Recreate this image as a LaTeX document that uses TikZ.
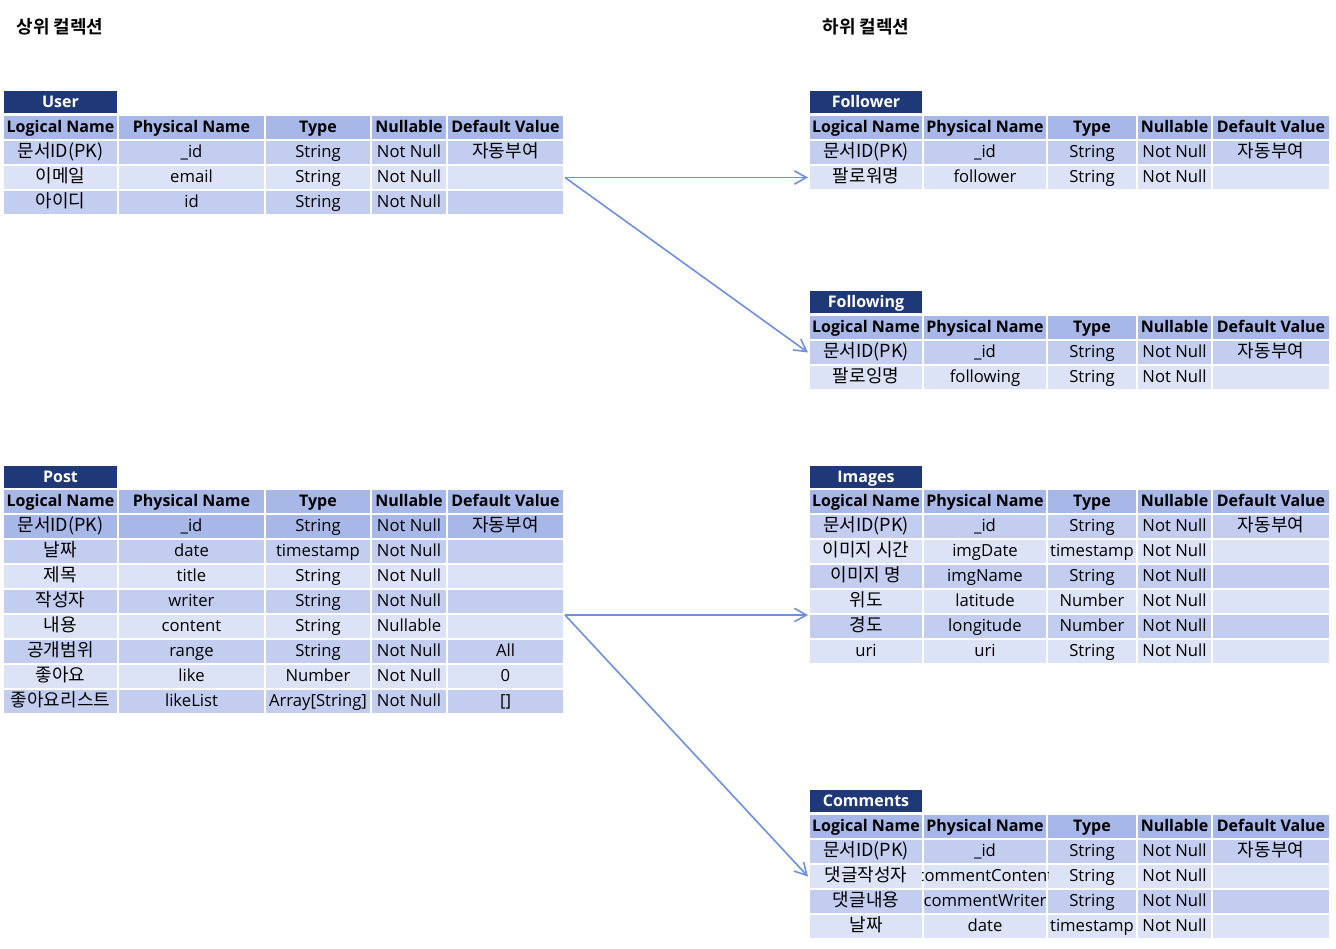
\documentclass[tikz,border=0pt]{standalone}
\usepackage{fontspec}
\setmainfont{Open Sans}
\newfontfamily\kr{Noto Sans CJK KR}[BoldFont={Noto Sans CJK KR Bold}, Scale=1.08]
\usetikzlibrary{arrows.meta}

\definecolor{navy}{RGB}{31,56,120}
\definecolor{hdrblue}{RGB}{167,184,232}
\definecolor{midblue}{RGB}{194,205,240}
\definecolor{lightblue}{RGB}{221,227,246}
\definecolor{linkblue}{RGB}{111,143,224}

\tikzset{every picture/.style={line width=0.75pt}}
\tikzset{
  cell/.style={draw=white, line width=1.5pt, anchor=north west, inner sep=0pt,
    minimum height=18.75pt, text height=10pt, text depth=2pt,
    font=\fontsize{12.5}{14}\selectfont},
  headrow/.style={cell, fill=hdrblue, font=\fontsize{12}{14}\selectfont\bfseries},
  rowdark/.style={cell, fill=hdrblue},
  rowmid/.style={cell, fill=midblue},
  rowlight/.style={cell, fill=lightblue},
  titlebar/.style={cell, fill=navy, text=white, minimum height=18pt,
    font=\fontsize{12}{14}\selectfont\bfseries},
  link/.style={draw=linkblue, line width=1.2pt, -{Straight Barb[length=9pt,width=10pt,line width=1.2pt]}},
}

% column positions of the left and right tables
\newcommand{\leftcols}{\def\cxa{2}\def\cxb{117}\def\cxc{264}\def\cxd{370}\def\cxe{446}%
  \def\cwa{86.25pt}\def\cwb{110.25pt}\def\cwc{79.5pt}\def\cwd{57pt}\def\cwe{87.75pt}}
\newcommand{\rightcols}{\def\cxa{808}\def\cxb{922}\def\cxc{1046}\def\cxd{1136}\def\cxe{1211}%
  \def\cwa{85.5pt}\def\cwb{93pt}\def\cwc{67.5pt}\def\cwd{56.25pt}\def\cwe{88.5pt}}
% one table row: name, top, style, five cell texts
\newcommand{\dbrow}[8]{%
  \node[#3, minimum width=\cwa] (#1-1) at (\cxa,#2) {#4};
  \node[#3, minimum width=\cwb] (#1-2) at (\cxb,#2) {#5};
  \node[#3, minimum width=\cwc] (#1-3) at (\cxc,#2) {#6};
  \node[#3, minimum width=\cwd] (#1-4) at (\cxd,#2) {#7};
  \node[#3, minimum width=\cwe] (#1-5) at (\cxe,#2) {#8};
}
\newcommand{\dbhead}[2]{%
  \dbrow{#1}{#2}{headrow}{Logical Name}{Physical Name}{Type}{Nullable}{Default Value}}

\begin{document}
\begin{tikzpicture}[x=0.75pt,y=0.75pt,yscale=-1,xscale=1]
\useasboundingbox (0,0) rectangle (1336,949);

% Section titles
\node[anchor=west, inner sep=0pt, font=\kr\fontsize{12.5}{14}\selectfont\bfseries] (upper) at (16,27) {상위 컬렉션};
\node[anchor=west, inner sep=0pt, font=\kr\fontsize{12.5}{14}\selectfont\bfseries] (lower) at (822,27) {하위 컬렉션};

% User
\leftcols
\node[titlebar, minimum width=\cwa] (user-title) at (\cxa,89) {User};
\dbhead{user-head}{114}
\dbrow{user-pk}{139}{rowmid}{\kr 문서ID(PK)}{\_id}{String}{Not Null}{\kr 자동부여}
\dbrow{user-email}{164}{rowlight}{\kr 이메일}{email}{String}{Not Null}{}
\dbrow{user-id}{189}{rowmid}{\kr 아이디}{id}{String}{Not Null}{}

% Post
\node[titlebar, minimum width=\cwa] (post-title) at (\cxa,464) {Post};
\dbhead{post-head}{488}
\dbrow{post-pk}{513}{rowdark}{\kr 문서ID(PK)}{\_id}{String}{Not Null}{\kr 자동부여}
\dbrow{post-date}{538}{rowmid}{\kr 날짜}{date}{timestamp}{Not Null}{}
\dbrow{post-title}{563}{rowlight}{\kr 제목}{title}{String}{Not Null}{}
\dbrow{post-writer}{588}{rowmid}{\kr 작성자}{writer}{String}{Not Null}{}
\dbrow{post-content}{613}{rowlight}{\kr 내용}{content}{String}{Nullable}{}
\dbrow{post-range}{638}{rowmid}{\kr 공개범위}{range}{String}{Not Null}{All}
\dbrow{post-like}{663}{rowlight}{\kr 좋아요}{like}{Number}{Not Null}{0}
\dbrow{post-likelist}{688}{rowmid}{\kr 좋아요리스트}{likeList}{Array[String]}{Not Null}{[]}

% Follower
\rightcols
\node[titlebar, minimum width=\cwa] (follower-title) at (\cxa,89) {Follower};
\dbhead{follower-head}{114}
\dbrow{follower-pk}{139}{rowmid}{\kr 문서ID(PK)}{\_id}{String}{Not Null}{\kr 자동부여}
\dbrow{follower-follower}{164}{rowlight}{\kr 팔로워명}{follower}{String}{Not Null}{}

% Following
\node[titlebar, minimum width=\cwa] (following-title) at (\cxa,289) {Following};
\dbhead{following-head}{314}
\dbrow{following-pk}{339}{rowmid}{\kr 문서ID(PK)}{\_id}{String}{Not Null}{\kr 자동부여}
\dbrow{following-following}{364}{rowlight}{\kr 팔로잉명}{following}{String}{Not Null}{}

% Images
\node[titlebar, minimum width=\cwa] (images-title) at (\cxa,464) {Images};
\dbhead{images-head}{488}
\dbrow{images-pk}{513}{rowmid}{\kr 문서ID(PK)}{\_id}{String}{Not Null}{\kr 자동부여}
\dbrow{images-date}{538}{rowlight}{\kr 이미지 시간}{imgDate}{timestamp}{Not Null}{}
\dbrow{images-name}{563}{rowmid}{\kr 이미지 명}{imgName}{String}{Not Null}{}
\dbrow{images-lat}{588}{rowlight}{\kr 위도}{latitude}{Number}{Not Null}{}
\dbrow{images-lon}{613}{rowmid}{\kr 경도}{longitude}{Number}{Not Null}{}
\dbrow{images-uri}{638}{rowlight}{uri}{uri}{String}{Not Null}{}

% Comments
\node[titlebar, minimum width=\cwa] (comments-title) at (\cxa,788) {Comments};
\dbhead{comments-head}{813}
\dbrow{comments-pk}{838}{rowmid}{\kr 문서ID(PK)}{\_id}{String}{Not Null}{\kr 자동부여}
\dbrow{comments-writer}{863}{rowlight}{\kr 댓글작성자}{}{String}{Not Null}{}
\dbrow{comments-content}{888}{rowmid}{\kr 댓글내용}{}{String}{Not Null}{}
\dbrow{comments-date}{913}{rowlight}{\kr 날짜}{date}{timestamp}{Not Null}{}
% overflowing texts, cut at the cell edges
\begin{scope}
\clip (comments-writer-2.north west) rectangle (comments-writer-2.south east);
\node[font=\fontsize{12.5}{14}\selectfont, inner sep=0pt, text height=10pt, text depth=2pt] (comments-writer-text) at (comments-writer-2.center) {commentContent};
\end{scope}
\begin{scope}
\clip (comments-content-2.north west) rectangle (comments-content-2.south east);
\node[font=\fontsize{12.5}{14}\selectfont, inner sep=0pt, text height=10pt, text depth=2pt] (comments-content-text) at (comments-content-2.center) {commentWriter};
\end{scope}

% Links
\draw[link] (user-email-5.east) -- (follower-follower-1.west);
\draw[link] (user-email-5.east) -- (following-pk-1.west);
\draw[link] (post-writer-5.south east) -- (images-lat-1.south west);
\draw[link] (post-writer-5.south east) -- (comments-writer-1.west);

\end{tikzpicture}
\end{document}
